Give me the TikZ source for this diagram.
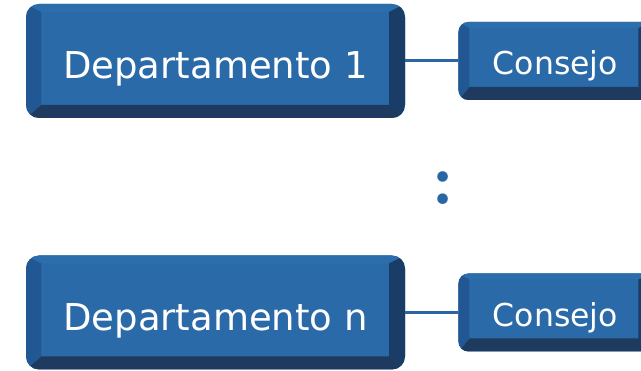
\documentclass[tikz,border=0pt]{standalone}
\usepackage{fontspec}
\newfontfamily\boxfont{DejaVu Sans}
\usetikzlibrary{positioning}

\definecolor{face}{HTML}{2A6AA8}
\definecolor{bevtop}{HTML}{2C6DAC}
\definecolor{bevleft}{HTML}{215893}
\definecolor{bevright}{HTML}{193D66}
\definecolor{bevbottom}{HTML}{1E3B5F}
\definecolor{link}{HTML}{2B66A4}

% bevel strips: left, top, right, bottom widths
\newcommand{\bevelpic}[4]{%
  \coordinate (bsw) at (path picture bounding box.south west);
  \coordinate (bne) at (path picture bounding box.north east);
  \coordinate (bnw) at (bsw |- bne);
  \coordinate (bse) at (bne |- bsw);
  \coordinate (inw) at ([xshift=#1pt,yshift=-#2pt]bnw);
  \coordinate (ine) at ([xshift=-#3pt,yshift=-#2pt]bne);
  \coordinate (ise) at ([xshift=-#3pt,yshift=#4pt]bse);
  \coordinate (isw) at ([xshift=#1pt,yshift=#4pt]bsw);
  \fill[sharp corners,bevtop] (bnw) -- (bne) -- (ine) -- (inw) -- cycle;
  \fill[sharp corners,bevright] (bne) -- (bse) -- (ise) -- (ine) -- cycle;
  \fill[sharp corners,bevbottom] (bse) -- (bsw) -- (isw) -- (ise) -- cycle;
  \fill[sharp corners,bevleft] (bsw) -- (bnw) -- (inw) -- (isw) -- cycle;
}

\tikzstyle{dept}=[rounded corners=13pt,fill=face,text=white,inner sep=0pt,
  font=\boxfont\fontsize{37}{40}\selectfont,text height=36pt,text depth=0pt,
  minimum width=379pt,minimum height=114pt,path picture={\bevelpic{15}{8}{16}{13}}]
\tikzstyle{consejo}=[rounded corners=10pt,fill=face,text=white,inner sep=0pt,
  font=\boxfont\fontsize{31.5}{34}\selectfont,text height=28pt,text depth=0pt,
  minimum width=194pt,minimum height=78pt,path picture={\bevelpic{11}{6}{14}{13}}]
\tikzstyle{link}=[draw=link,line width=3pt]

\begin{document}
\begin{tikzpicture}[x=1pt,y=-1pt]
    \useasboundingbox (0,0) rectangle (641,371);
    % departments
    \node[dept] (d1) at (215.5,61) {Departamento 1};
    \node[dept] (dn) at (215.5,312.5) {Departamento n};
    % councils
    \node[consejo, right=53pt of d1] (c1) {Consejo};
    \node[consejo, right=53pt of dn] (cn) {Consejo};
    \draw[link] (d1) -- (c1);
    \draw[link] (dn) -- (cn);

    \node[text=link,font=\bfseries\fontsize{74}{76}\selectfont] (dots) at (442.7,188.3) {:};
\end{tikzpicture}
\end{document}
